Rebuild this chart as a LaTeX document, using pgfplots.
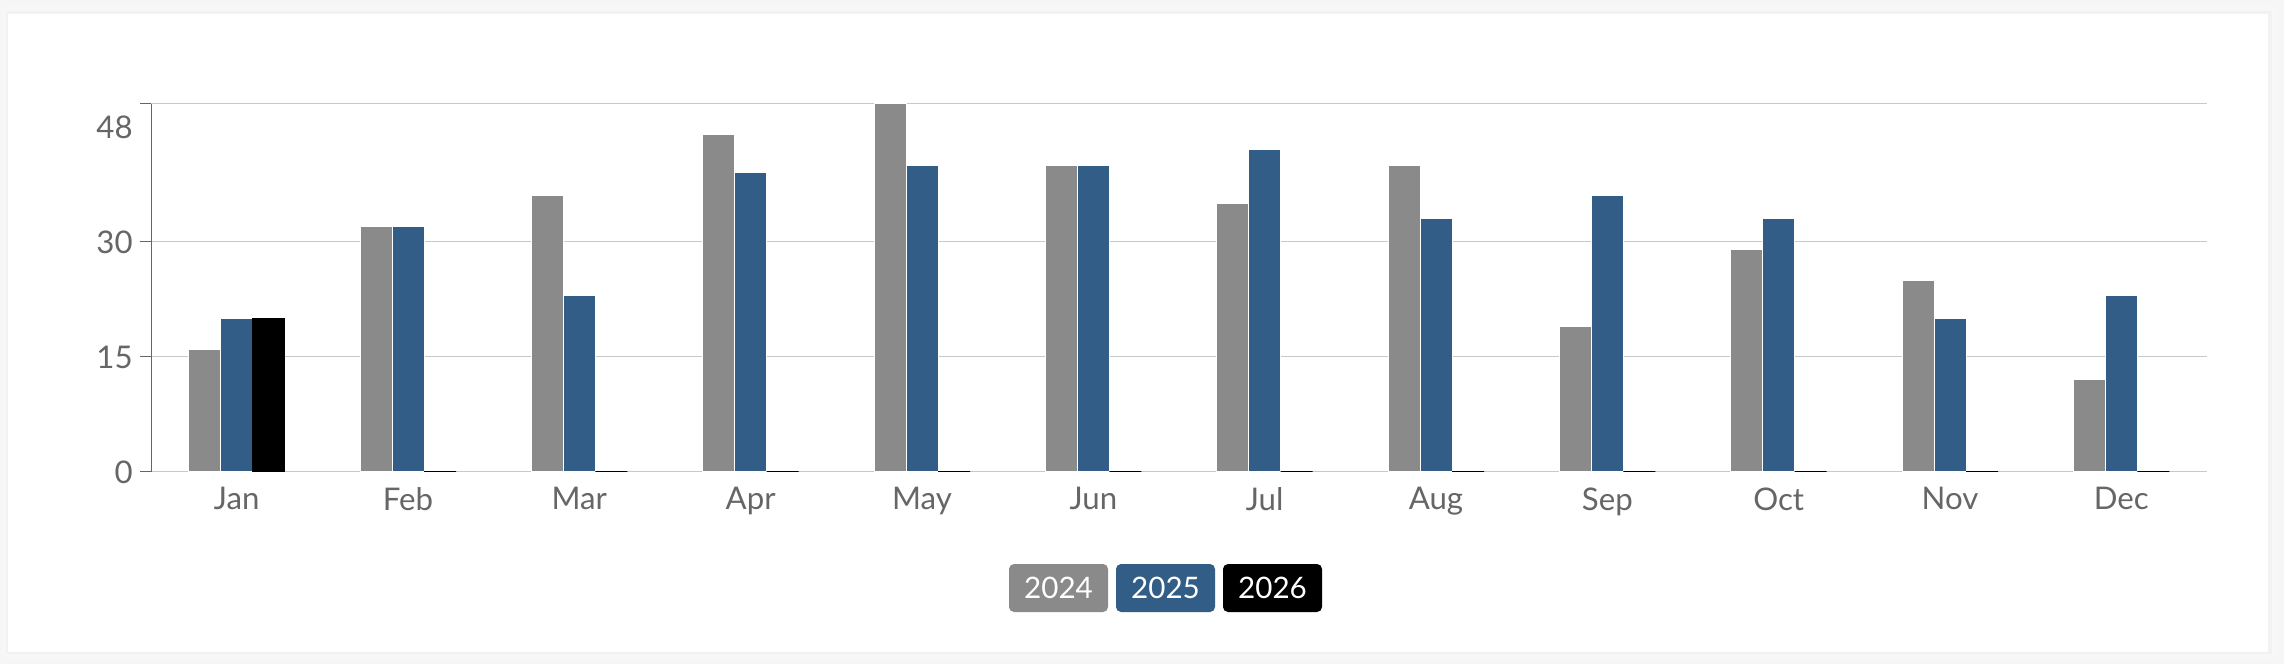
\documentclass[border=0pt]{standalone}
\usepackage{pgfplots}
\pgfplotsset{compat=1.18}
\usepackage{fontspec}
\setmainfont{Lato}
\definecolor{c24}{HTML}{8A8A8A}
\definecolor{c25}{HTML}{325D86}
\definecolor{c26}{HTML}{000000}
\definecolor{txt}{HTML}{666666}
\definecolor{gridc}{HTML}{C8C8C8}
\definecolor{bg}{HTML}{F6F6F6}

\begin{document}
\begin{tikzpicture}
% page and card
\fill[bg] (0,0) rectangle (1142pt,332pt);
\fill[black!3] (1pt,3pt) rectangle (1139pt,329pt);
\fill[black!5] (3pt,5pt) rectangle (1136pt,326.5pt);
\fill[white] (4pt,6pt) rectangle (1134pt,325pt);
\begin{axis}[
  at={(75.5pt,96pt)}, anchor=south west,
  scale only axis, width=1028pt, height=184pt,
  ybar=0pt, bar width=16pt,
  xmin=-0.5, xmax=11.5, ymin=0, ymax=48,
  xtick={0,...,11},
  xticklabels={Jan,Feb,Mar,Apr,May,Jun,Jul,Aug,Sep,Oct,Nov,Dec},
  ytick={0,15,30},
  extra y ticks={48},
  extra y tick style={yticklabel style={yshift=-11.5pt}},
  ymajorgrids, grid style={gridc, line width=0.5pt},
  axis x line*=bottom, axis y line*=left,
  x axis line style={gridc, line width=0.5pt},
  y axis line style={txt, line width=0.5pt},
  xtick style={draw=none},
  ytick style={txt, line width=0.5pt},
  tick align=outside, major tick length=5.5pt,
  /pgf/number format/assume math mode=true,
  tick label style={font=\fontsize{15.6}{18}\selectfont, text=txt},
  yticklabel style={anchor=east, inner sep=0pt, xshift=-3.5pt},
  xticklabel style={anchor=north, inner sep=0pt, yshift=-2pt},
]
\addplot[fill=c24, draw=white, line width=0.5pt] coordinates {
  (0,16) (1,32) (2,36) (3,44) (4,48) (5,40) (6,35) (7,40) (8,19) (9,29) (10,25) (11,12)};
\addplot[fill=c25, draw=white, line width=0.5pt] coordinates {
  (0,20) (1,32) (2,23) (3,39) (4,40) (5,40) (6,42) (7,33) (8,36) (9,33) (10,20) (11,23)};
\addplot[fill=c26, draw=black, line width=0.75pt] coordinates {
  (0,20) (1,0) (2,0) (3,0) (4,0) (5,0) (6,0) (7,0) (8,0) (9,0) (10,0) (11,0)};
\end{axis}
% legend
\begin{scope}[every node/.style={rounded corners=2.5pt, minimum width=49.5pt,
    minimum height=24pt, inner sep=0pt, text=white,
    font=\fontsize{14.8}{16}\selectfont}]
\node[fill=c24] at (529.25pt,38pt) {2024};
\node[fill=c25] at (582.75pt,38pt) {2025};
\node[fill=c26] at (636.25pt,38pt) {2026};
\end{scope}
\end{tikzpicture}
\end{document}
